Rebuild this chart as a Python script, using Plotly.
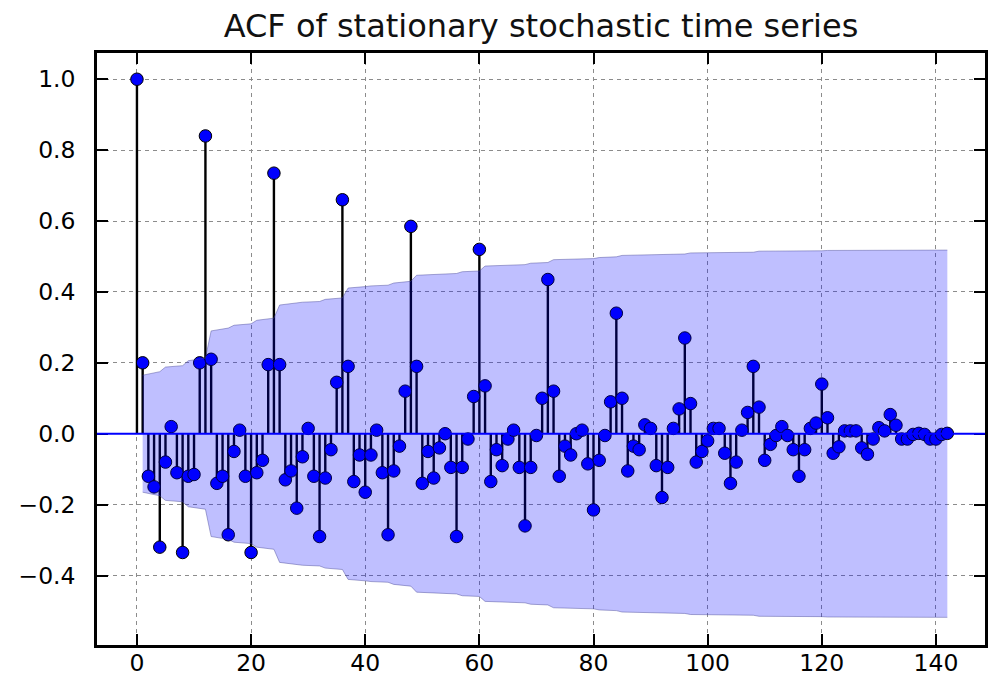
import plotly.graph_objects as go

title_text = "ACF of stationary stochastic time series"

# autocorrelation values, lags 0..142
acf_values = [
    1.0, 0.20, -0.12, -0.15, -0.32, -0.08, 0.02, -0.11, -0.335, -0.12,
    -0.115, 0.20, 0.84, 0.21, -0.14, -0.12, -0.285, -0.05, 0.01, -0.12,
    -0.335, -0.11, -0.075, 0.195, 0.735, 0.195, -0.13, -0.105, -0.21, -0.065,
    0.015, -0.12, -0.29, -0.125, -0.045, 0.145, 0.66, 0.19, -0.135, -0.06,
    -0.165, -0.06, 0.01, -0.11, -0.285, -0.105, -0.035, 0.12, 0.585, 0.19,
    -0.14, -0.05, -0.125, -0.04, 0.0, -0.095, -0.29, -0.095, -0.015, 0.105,
    0.52, 0.135, -0.135, -0.045, -0.09, -0.015, 0.01, -0.095, -0.26, -0.095,
    -0.005, 0.10, 0.435, 0.12, -0.12, -0.035, -0.06, 0.0, 0.01, -0.085,
    -0.215, -0.075, -0.005, 0.09, 0.34, 0.10, -0.105, -0.035, -0.045, 0.025,
    0.015, -0.09, -0.18, -0.095, 0.015, 0.07, 0.27, 0.085, -0.08, -0.05,
    -0.02, 0.015, 0.015, -0.055, -0.14, -0.08, 0.01, 0.06, 0.19, 0.075,
    -0.075, -0.03, -0.005, 0.02, -0.005, -0.045, -0.12, -0.045, 0.015, 0.03,
    0.14, 0.045, -0.055, -0.037, 0.008, 0.008, 0.008, -0.04, -0.058, -0.015,
    0.017, 0.008, 0.054, 0.024, -0.015, -0.015, -0.002, 0.001, -0.002, -0.015,
    -0.015, -0.002, 0.001,
]
lags = list(range(len(acf_values)))

# confidence band half-width, read at its break points
band_lags = [1, 4, 5, 8, 9, 12, 13, 16, 17, 20, 21, 24, 25, 28, 29, 32, 33, 36,
             37, 40, 41, 44, 45, 48, 49, 56, 57, 60, 61, 68, 69, 72, 73, 80, 81,
             84, 85, 96, 97, 108, 109, 120, 121, 142]
band_half = [0.165, 0.175, 0.188, 0.192, 0.206, 0.213, 0.29, 0.298, 0.306, 0.31,
             0.32, 0.326, 0.363, 0.368, 0.371, 0.373, 0.379, 0.383, 0.411, 0.415,
             0.417, 0.419, 0.425, 0.43, 0.447, 0.452, 0.457, 0.459, 0.473, 0.477,
             0.481, 0.483, 0.491, 0.494, 0.497, 0.499, 0.503, 0.507, 0.51, 0.512,
             0.515, 0.516, 0.517, 0.518]

x_ticks = [0, 20, 40, 60, 80, 100, 120, 140]
y_ticks = [-0.4, -0.2, 0.0, 0.2, 0.4, 0.6, 0.8, 1.0]

stem_x, stem_y = [], []
for lag, val in zip(lags, acf_values):
    stem_x += [lag, lag, None]
    stem_y += [0, val, None]

fig = go.Figure()
fig.add_trace(go.Scatter(x=stem_x, y=stem_y, mode="lines",
                         line=dict(color="black", width=2.4), hoverinfo="skip",
                         showlegend=False))
fig.add_trace(go.Scatter(x=lags, y=acf_values, mode="markers",
                         marker=dict(color="#0000ff", size=12.5,
                                     line=dict(color="black", width=1)),
                         showlegend=False))
fig.add_trace(go.Scatter(x=band_lags, y=[-h for h in band_half], mode="lines",
                         line=dict(color="rgba(70,70,150,0.45)", width=1),
                         showlegend=False, hoverinfo="skip"))
fig.add_trace(go.Scatter(x=band_lags, y=band_half, mode="lines", fill="tonexty",
                         fillcolor="rgba(0,0,255,0.25)",
                         line=dict(color="rgba(70,70,150,0.45)", width=1),
                         showlegend=False, hoverinfo="skip"))
fig.add_hline(y=0, line=dict(color="#0000ff", width=2), layer="above")

axis_common = dict(
    showline=True, linecolor="black", linewidth=2.5, mirror="ticks",
    ticks="inside", ticklen=11, tickwidth=1.5, tickcolor="black",
    showgrid=True, gridcolor="#8c8c8c", gridwidth=1, griddash="4px,4px",
    zeroline=False, automargin=False,
    tickfont=dict(family="DejaVu Sans", size=23.5, color="black"),
)

fig.update_layout(
    width=994, height=679,
    margin=dict(l=97, r=9, t=53, b=34),
    paper_bgcolor="white", plot_bgcolor="white",
    title=dict(text=title_text, x=0.5, xref="paper", y=1 - 26 / 679,
               yanchor="middle", font=dict(family="DejaVu Sans", size=32,
                                          color="#111111")),
    xaxis=dict(range=[-7.0, 148.6], tickvals=x_ticks, ticklabelstandoff=-5,
               **axis_common),
    yaxis=dict(range=[-0.596, 1.074], tickvals=y_ticks, tickformat=".1f",
               ticklabelstandoff=14, **axis_common),
    showlegend=False,
)

fig.write_html("out.html")
